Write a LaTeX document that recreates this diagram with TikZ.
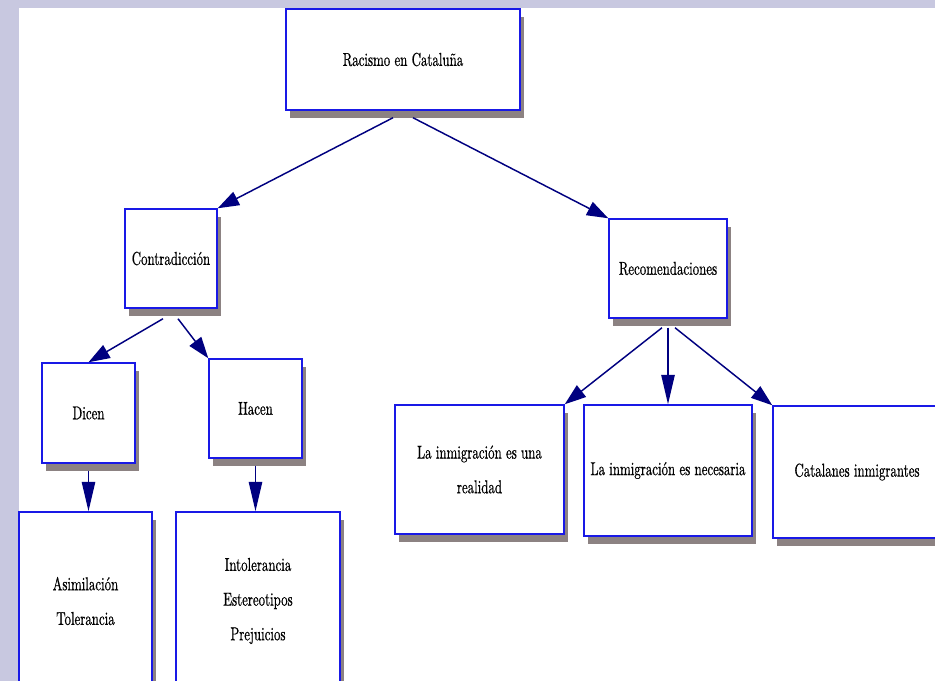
\documentclass[tikz,border=0pt]{standalone}
\usepackage{fontspec}
\setmainfont{lmroman10-regular.otf}[FakeStretch=0.69,FakeBold=0.6]
\usetikzlibrary{arrows.meta,calc,shadows}
\definecolor{lavender}{RGB}{200,200,224}
\definecolor{boxblue}{RGB}{25,25,230}
\definecolor{navyline}{RGB}{0,0,128}
\definecolor{shadowgray}{RGB}{140,130,130}
\begin{document}
\begin{tikzpicture}[x=0.75pt,y=-0.75pt,
		box/.style={draw=boxblue, line width=1.1pt, fill=white, align=center, inner sep=0pt,
			font=\fontsize{14}{26}\selectfont,
			drop shadow={shadow xshift=3pt, shadow yshift=-6pt, fill=shadowgray, opacity=1}},
		link/.style={navyline, line width=1.1pt, -{Triangle[length=16pt,width=11pt]}},
		drop/.style={navyline, line width=1.1pt, -{Triangle[length=22pt,width=10pt]}}]
		\clip (0,0) rectangle (935,681);
		\fill[lavender] (0,0) rectangle (935,681);
		\fill[white] (19,8) rectangle (935,681);
		% boxes
		\node[box, minimum width=175.5pt, minimum height=75.75pt] (top) at (403,59.5) {Racismo en Cataluña};
		\node[box, minimum width=69pt, minimum height=74.25pt] (contra) at (171,258.5) {Contradicción};
		\node[box, minimum width=88.5pt, minimum height=74.25pt] (recom) at (668,268.5) {Recomendaciones};
		\node[box, minimum width=69.75pt, minimum height=75pt] (dicen) at (88.5,413) {Dicen};
		\node[box, minimum width=69.75pt, minimum height=74.25pt] (hacen) at (255.5,408.5) {Hacen};
		\node[box, minimum width=99.75pt, minimum height=133.5pt] (asim) at (85.5,601) {Asimilación\\Tolerancia};
		\node[box, minimum width=123pt, minimum height=133.5pt] (intol) at (258,601) {Intolerancia\\Estereotipos\\Prejuicios};
		\node[box, minimum width=126.75pt, minimum height=96.75pt] (realidad) at (479.5,469.5) {La inmigración es una\\realidad};
		\node[box, minimum width=126pt, minimum height=98.25pt] (necesaria) at (668,470.5) {La inmigración es necesaria};
		\node[box, minimum width=126pt, minimum height=99pt] (catalanes) at (857,472) {Catalanes inmigrantes};
		% arrows
		\draw[link] ($(top.south)+(-10,7)$) -- (contra.north east);
		\draw[link] ($(top.south)+(10,7)$) -- (recom.north west);
		\draw[link] ($(contra.south)+(-8,10)$) -- (dicen.north);
		\draw[link] ($(contra.south)+(7,10)$) -- (hacen.north west);
		\draw[drop] ($(dicen.south)+(0,7)$) -- (dicen.south |- asim.north);
		\draw[drop] ($(hacen.south)+(0,7)$) -- (hacen.south |- intol.north);
		\draw[link] ($(recom.south)+(-6,9)$) -- (realidad.north east);
		\draw[drop] ($(recom.south)+(0,9)$) -- (necesaria.north);
		\draw[link] ($(recom.south)+(7,9)$) -- (catalanes.north west);
	\end{tikzpicture}
\end{document}
